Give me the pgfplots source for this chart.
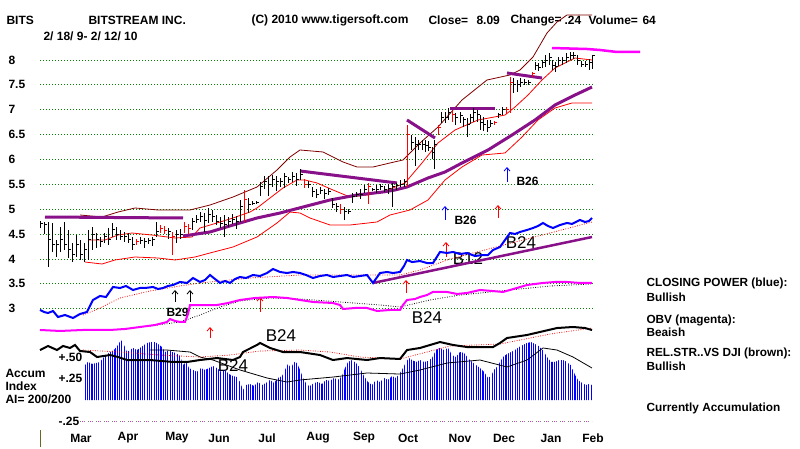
\documentclass[border=0pt]{standalone}
\usepackage{pgfplots}
\pgfplotsset{compat=1.18}
\usepackage{pgfplotstable}
\usepackage{fontspec}
\setmainfont{Liberation Sans}
\usetikzlibrary{patterns.meta,arrows.meta}
\definecolor{darkred}{RGB}{128,0,0}
\definecolor{purp}{RGB}{136,16,136}
\definecolor{mag}{RGB}{255,0,255}
\definecolor{gridg}{RGB}{0,130,0}
\newcommand\lb{\fontsize{12}{14}\selectfont\bfseries}
\newcommand\rb{\fontsize{11.8}{14}\selectfont\bfseries}
\newcommand\biglab{\fontsize{17}{17}\selectfont}

% price bars: x high low close
\pgfplotstableread{
x h l c
40 4.76 4.62 4.72
44 4.74 4.50 4.70
48 4.74 3.84 4.40
52 4.72 4.14 4.30
56 4.38 4.04 4.30
60 4.64 4.14 4.40
64 4.74 4.18 4.30
68 4.58 4.02 4.20
72 4.32 3.94 4.10
76 4.48 4.04 4.30
80 4.38 3.98 4.10
84 4.32 3.94 4.20
88 4.58 3.98 4.40
92 4.64 4.18 4.50
96 4.52 4.22 4.40
100 4.44 4.24 4.35
104 4.52 4.32 4.45
108 4.62 4.28 4.40
112 4.72 4.44 4.60
116 4.64 4.38 4.50
120 4.58 4.38 4.45
124 4.54 4.34 4.45
128 4.52 4.32 4.40
132 4.44 4.18 4.30
140 4.44 4.30 4.38
144 4.42 4.22 4.35
148 4.42 4.30 4.38
152 4.44 4.26 4.40
156 4.74 4.44 4.55
168 4.62 4.40 4.55
176 4.58 4.32 4.50
180 4.60 4.40 4.50
192 4.82 4.58 4.75
196 4.88 4.72 4.80
200 4.94 4.74 4.85
204 4.92 4.54 4.78
208 5.02 4.72 4.90
212 4.98 4.74 4.85
216 4.88 4.68 4.75
220 4.84 4.62 4.72
224 4.88 4.44 4.70
228 4.84 4.64 4.75
232 4.90 4.70 4.80
236 4.86 4.60 4.75
240 5.18 4.74 5.05
248 5.22 4.92 5.10
252 5.16 5.08 5.12
256 5.16 5.10 5.14
260 5.54 5.26 5.45
264 5.66 5.40 5.55
268 5.66 5.26 5.50
272 5.68 5.44 5.60
276 5.66 5.36 5.55
280 5.62 5.44 5.55
284 5.72 5.42 5.65
288 5.64 5.52 5.60
292 5.74 5.54 5.65
296 5.72 5.46 5.60
300 5.80 5.58 5.70
308 5.56 5.42 5.50
312 5.44 5.24 5.35
316 5.40 5.22 5.30
320 5.44 5.30 5.38
324 5.40 5.20 5.32
328 5.42 5.28 5.35
332 5.22 5.02 5.10
336 5.12 4.94 5.05
344 5.04 4.78 4.95
348 5.00 4.90 4.95
352 5.32 5.12 5.25
356 5.34 5.24 5.30
360 5.40 5.20 5.30
364 5.48 5.32 5.40
372 5.42 5.36 5.40
376 5.48 5.32 5.40
380 5.50 5.38 5.45
384 5.46 5.34 5.40
388 5.50 5.30 5.42
392 5.52 5.04 5.45
396 5.52 5.38 5.48
400 5.58 5.44 5.50
404 5.60 5.44 5.55
411 6.50 6.20 6.35
415 6.46 5.86 6.30
418 6.40 6.20 6.30
422 6.40 6.20 6.30
425 6.40 6.16 6.28
428 6.38 6.18 6.25
432 6.25 6.00 6.15
434 6.40 5.80 6.30
441 6.95 6.73 6.85
445 6.95 6.74 6.85
448 7.04 6.80 6.95
455 6.93 6.70 6.85
460 6.96 6.74 6.88
463 6.86 6.66 6.80
467 6.84 6.46 6.70
470 6.92 6.72 6.85
473 7.04 6.76 6.95
477 7.00 6.76 6.90
480 6.90 6.60 6.75
483 6.86 6.58 6.70
487 6.80 6.56 6.65
490 6.80 6.66 6.72
498 6.94 6.84 6.90
502 7.06 6.90 7.00
513 7.64 7.34 7.50
517 7.60 7.36 7.50
520 7.64 7.46 7.55
524 7.62 7.50 7.55
528 7.60 7.50 7.55
535 7.96 7.80 7.90
538 7.94 7.78 7.85
542 8.00 7.84 7.95
545 8.10 7.86 8.00
549 8.14 7.90 8.05
552 8.00 7.80 7.90
555 7.96 7.76 7.88
558 8.06 7.88 8.00
562 8.06 7.90 8.00
566 8.14 7.94 8.05
570 8.16 8.00 8.10
573 8.16 8.02 8.10
577 8.10 7.90 8.00
581 7.98 7.86 7.92
585 7.98 7.86 7.92
589 8.02 7.80 7.95
592 8.10 7.82 8.09
}\blackbars

\pgfplotstableread{
x h l c
136 4.40 4.28 4.35
160 4.68 4.52 4.62
164 4.66 4.50 4.58
172 4.54 4.08 4.45
184 4.74 4.52 4.65
188 4.70 4.50 4.62
244 5.38 4.74 5.20
304 5.60 5.42 5.50
340 5.10 4.90 5.00
368 5.52 5.10 5.45
407 6.70 5.44 6.50
438 6.70 6.50 6.65
452 6.98 6.76 6.90
494 6.78 6.70 6.75
506 7.06 6.92 7.00
510 7.66 6.94 7.55
532 7.76 7.66 7.72
}\redbars

% Accumulation index
\pgfplotstableread{
x a
85 .407
88 .442
92 .419
96 .430
100 .442
103 .488
106 .523
110 .558
114 .581
118 .640
121 .698
124 .640
127 .558
130 .581
133 .605
137 .581
140 .605
144 .640
147 .663
151 .674
155 .674
158 .651
162 .616
165 .558
169 .581
172 .558
176 .547
180 .512
183 .407
186 .442
189 .372
193 .349
197 .326
201 .372
205 .349
209 .372
213 .395
217 .372
221 .326
225 .349
229 .302
233 .279
237 .267
240 .209
243 .116
246 .174
250 .186
254 .163
258 .209
262 .174
266 .198
270 .233
274 .198
278 .256
282 .279
285 .349
288 .419
291 .372
294 .442
297 .430
300 .349
303 .256
307 .174
310 .163
314 .198
318 .209
322 .186
326 .233
330 .221
334 .256
338 .233
342 .279
345 .372
348 .442
352 .465
356 .430
360 .372
364 .279
368 .209
372 .174
376 .233
380 .209
384 .256
388 .233
392 .279
396 .256
400 .314
403 .372
406 .442
409 .488
412 .465
416 .442
420 .465
424 .442
428 .453
432 .488
436 .581
440 .605
444 .581
448 .605
452 .523
456 .500
460 .558
464 .547
468 .488
472 .442
476 .407
480 .372
484 .326
488 .256
491 .279
494 .349
497 .384
500 .442
503 .500
507 .535
511 .558
515 .581
519 .616
523 .640
527 .663
531 .674
535 .651
539 .628
543 .581
547 .500
551 .442
555 .442
559 .465
563 .465
567 .442
571 .407
575 .291
578 .233
582 .198
586 .174
589 .186
592 .174
}\aitab

\pgfplotsset{base/.style={width=800pt,height=448pt,scale only axis,xmin=0,xmax=800,hide axis,clip=false},
 every node/.append style={inner sep=0pt},
 barstyle/.style={only marks, mark=-, mark size=1.5pt, mark options={xshift=1.5pt, line width=0.9pt, #1},
   error bars/.cd, y dir=both, y explicit, error mark=none, error bar style={line width=1pt, #1}},
 arr/.style={#1, line width=0.8pt, -{Straight Barb[length=3.5pt,width=6pt]}}}

\begin{document}
\begin{tikzpicture}
\fill[white] (0,0) rectangle (800pt,448pt);
\begin{axis}[base, ymin=0.2005, ymax=9.206]
% grid lines and price labels
\pgfplotsinvokeforeach{3,3.5,4,4.5,5,5.5,6,6.5,7,7.5,8}{
  \addplot[gridg, line width=0.8pt, dash pattern=on 0.9pt off 2.1pt] coordinates {(40,#1)(593,#1)};
  \node[anchor=west, font=\lb] at (axis cs:5,#1) {#1};
}
% titles
\node[anchor=west, font=\lb] at (axis cs:3,8.804) {BITS};
\node[anchor=west, font=\lb] at (axis cs:85,8.804) {BITSTREAM INC.};
\node[anchor=west, font=\lb] at (axis cs:248,8.804) {(C) 2010 www.tigersoft.com};
\node[anchor=west, font=\lb] at (axis cs:425,8.804) {Close=};
\node[anchor=west, font=\lb] at (axis cs:473,8.804) {8.09};
\node[anchor=west, font=\lb] at (axis cs:507,8.804) {Change=};
\node[anchor=west, font=\lb] at (axis cs:561,8.804) {.24};
\node[anchor=west, font=\lb] at (axis cs:585,8.804) {Volume=};
\node[anchor=west, font=\lb] at (axis cs:639,8.804) {64};
\node[anchor=west, font=\lb] at (axis cs:40,8.482) {2/ 18/ 9- 2/ 12/ 10};
% right side texts
\node[anchor=west, font=\rb] at (axis cs:643,3.518) {CLOSING POWER (blue):};
\node[anchor=west, font=\rb] at (axis cs:643,3.236) {Bullish};
\node[anchor=west, font=\rb] at (axis cs:643,2.774) {OBV (magenta):};
\node[anchor=west, font=\rb] at (axis cs:643,2.533) {Beaish};
\node[anchor=west, font=\rb] at (axis cs:643,2.110) {REL.STR..VS DJI (brown):};
\node[anchor=west, font=\rb] at (axis cs:643,1.849) {Bullish};
\node[anchor=west, font=\rb] at (axis cs:643,1.005) {Currently Accumulation};
% month labels
\node[font=\lb] at (axis cs:81,0.402) {Mar};
\node[font=\lb] at (axis cs:128,0.402) {Apr};
\node[font=\lb] at (axis cs:177,0.402) {May};
\node[font=\lb] at (axis cs:219,0.402) {Jun};
\node[font=\lb] at (axis cs:267,0.402) {Jul};
\node[font=\lb] at (axis cs:318,0.402) {Aug};
\node[font=\lb] at (axis cs:364,0.402) {Sep};
\node[font=\lb] at (axis cs:408,0.402) {Oct};
\node[font=\lb] at (axis cs:460,0.402) {Nov};
\node[font=\lb] at (axis cs:504,0.402) {Dec};
\node[font=\lb] at (axis cs:551,0.402) {Jan};
\node[font=\lb] at (axis cs:593,0.402) {Feb};
\addplot[olive!70!black, line width=1pt] coordinates {(40,0.23)(40,0.56)};
% signal labels
\node[font=\biglab] at (axis cs:468,4.00) {B12};
\node[font=\biglab] at (axis cs:521,4.34) {B24};
\node[font=\biglab] at (axis cs:427,2.814) {B24};
\node[font=\biglab] at (axis cs:281,2.452) {B24};
\node[font=\biglab] at (axis cs:233,1.849) {B24};
\node[anchor=west, font=\lb] at (axis cs:163,2.935) {B29};
\node[anchor=west, font=\lb] at (axis cs:451,4.784) {B26};
\node[anchor=west, font=\lb] at (axis cs:513,5.568) {B26};
% arrows
\addplot[arr=black] coordinates {(175,3.136)(175,3.377)};
\addplot[arr=black] coordinates {(190,3.136)(190,3.377)};
\addplot[arr=red] coordinates {(210,2.412)(210,2.633)};
\addplot[arr=red] coordinates {(260,2.935)(260,3.236)};
\addplot[arr=red] coordinates {(406,3.317)(406,3.578)};
\addplot[arr=red] coordinates {(446,4.040)(446,4.342)};
\addplot[arr=red] coordinates {(498,4.824)(498,5.085)};
\addplot[arr=blue] coordinates {(445,4.784)(445,5.065)};
\addplot[arr=blue] coordinates {(507,5.548)(507,5.849)};
% Bollinger bands and moving average
\addplot[darkred, line width=0.8pt] coordinates {(80,4.884)(102,4.844)(118,4.944)(135,5.025)(158,4.985)(178,4.985)(190,4.985)(210,5.085)(233,5.246)(257,5.447)(277,5.789)(290,6.050)(300,6.191)(323,6.151)(343,5.950)(357,5.849)(373,5.849)(390,5.930)(403,5.990)(408,6.090)(420,6.332)(438,6.653)(462,7.196)(487,7.598)(510,7.699)(520,7.799)(533,8.060)(547,8.543)(557,8.764)(567,8.905)(592,8.905)};
\addplot[red, line width=0.8pt] coordinates {(85,3.939)(102,3.899)(115,3.980)(135,4.040)(158,4.020)(175,3.980)(195,4.040)(210,4.121)(233,4.241)(257,4.442)(277,4.724)(290,4.944)(300,4.924)(310,4.824)(330,4.683)(350,4.683)(377,4.744)(390,4.884)(410,4.985)(428,5.186)(445,5.588)(462,5.849)(482,6.090)(505,6.131)(522,6.452)(538,6.794)(555,7.035)(572,7.136)(592,7.136)};
\addplot[red, line width=0.8pt] coordinates {(88,4.382)(105,4.382)(118,4.482)(132,4.522)(152,4.482)(175,4.422)(192,4.442)(200,4.623)(217,4.724)(233,4.824)(250,4.944)(257,5.025)(270,5.226)(283,5.427)(297,5.588)(305,5.588)(317,5.528)(333,5.387)(350,5.246)(367,5.286)(383,5.347)(405,5.528)(422,5.930)(438,6.332)(455,6.593)(478,6.794)(505,6.894)(515,7.055)(528,7.296)(542,7.598)(555,7.839)(575,8.040)(592,8.000)};
\addplot[purp, line width=3pt] coordinates {(183,4.462)(190,4.482)(210,4.543)(233,4.683)(257,4.824)(280,4.924)(303,5.045)(330,5.186)(357,5.286)(383,5.347)(395,5.387)(407,5.447)(428,5.628)(445,5.749)(462,5.930)(488,6.191)(512,6.492)(535,6.794)(555,7.095)(575,7.296)(592,7.457)};
% trend lines
\addplot[purp, line width=3pt] coordinates {(45,4.844)(183,4.824)};
\addplot[purp, line width=3pt] coordinates {(300,5.769)(397,5.528)};
\addplot[purp, line width=3pt] coordinates {(407,6.794)(435,6.432)};
\addplot[purp, line width=3pt] coordinates {(450,7.035)(495,7.035)};
\addplot[purp, line width=3pt] coordinates {(507,7.739)(542,7.638)};
\addplot[mag, line width=2.5pt] coordinates {(552,8.241)(587,8.221)(600,8.201)(617,8.161)(640,8.161)};
% price bars
\addplot[barstyle=black] table[x=x, y=c, y error plus expr=\thisrow{h}-\thisrow{c}, y error minus expr=\thisrow{c}-\thisrow{l}] {\blackbars};
\addplot[barstyle=red] table[x=x, y=c, y error plus expr=\thisrow{h}-\thisrow{c}, y error minus expr=\thisrow{c}-\thisrow{l}] {\redbars};
% closing power
\addplot[red, line width=0.8pt, dash pattern=on 0.8pt off 1.6pt] coordinates {(83,2.874)(100,3.015)(120,3.216)(150,3.357)(180,3.457)(200,3.518)(250,3.618)(300,3.678)(350,3.678)(400,3.678)(420,3.779)(450,4.000)(500,4.261)(550,4.522)(592,4.744)};
\addplot[purp, line width=2.5pt] coordinates {(373,3.518)(592,4.442)};
\addplot[blue, line width=2pt] coordinates {(40,2.975)(44,2.935)(48,2.914)(53,2.955)(58,2.834)(65,2.874)(73,2.814)(80,2.894)(87,2.935)(93,3.176)(100,3.256)(106,3.236)(113,3.437)(120,3.417)(126,3.457)(133,3.377)(140,3.417)(145,3.417)(153,3.437)(158,3.397)(163,3.417)(168,3.457)(173,3.477)(180,3.538)(187,3.518)(193,3.618)(200,3.538)(205,3.578)(210,3.678)(215,3.598)(220,3.518)(225,3.558)(230,3.518)(235,3.598)(240,3.638)(246,3.618)(253,3.678)(260,3.658)(267,3.718)(273,3.799)(280,3.739)(287,3.718)(293,3.739)(300,3.718)(306,3.678)(313,3.618)(320,3.658)(327,3.678)(333,3.638)(340,3.658)(347,3.678)(353,3.638)(360,3.658)(367,3.678)(373,3.518)(380,3.718)(387,3.739)(393,3.718)(400,3.739)(404,3.859)(407,3.980)(412,3.939)(420,3.959)(427,3.919)(433,3.919)(440,4.141)(447,4.121)(453,4.141)(460,4.100)(467,4.120)(475,4.060)(483,4.080)(488,4.080)(493,4.181)(500,4.241)(505,4.382)(510,4.522)(515,4.502)(520,4.543)(527,4.583)(533,4.623)(538,4.663)(543,4.724)(548,4.663)(553,4.623)(560,4.683)(567,4.724)(572,4.704)(580,4.784)(585,4.744)(589,4.764)(592,4.824)};
% OBV
\addplot[black, line width=0.8pt, dash pattern=on 0.8pt off 1.6pt] coordinates {(150,2.653)(180,2.734)(200,2.874)(220,3.035)(240,3.156)(270,3.216)(300,3.196)(340,3.136)(380,3.075)(400,3.035)(430,3.176)(460,3.276)(500,3.357)(550,3.457)(592,3.498)};
\addplot[mag, line width=2pt] coordinates {(40,2.573)(60,2.553)(83,2.573)(110,2.573)(125,2.593)(140,2.633)(155,2.673)(167,2.734)(170,2.794)(175,2.754)(180,2.734)(185,2.734)(188,2.894)(190,3.075)(205,3.075)(217,3.075)(228,3.115)(240,3.176)(255,3.216)(273,3.236)(287,3.216)(300,3.176)(313,3.136)(333,3.115)(340,3.075)(343,2.995)(355,3.015)(367,3.015)(377,2.955)(390,2.975)(400,2.975)(403,3.075)(407,3.176)(415,3.196)(420,3.236)(427,3.276)(433,3.337)(447,3.337)(457,3.297)(467,3.317)(480,3.377)(492,3.357)(503,3.337)(510,3.377)(527,3.477)(535,3.498)(543,3.518)(555,3.538)(567,3.538)(580,3.518)(592,3.518)};
\end{axis}

\begin{axis}[base, ymin=-0.5581, ymax=4.6512]
\addplot[gray, line width=0.8pt, dash pattern=on 0.9pt off 3.1pt] coordinates {(80,-0.25)(592,-0.25)};
\addplot[mag!70!gray, line width=0.8pt, dash pattern=on 0.9pt off 7.1pt] coordinates {(82,-0.25)(592,-0.25)};
\node[anchor=west, font=\lb] at (axis cs:55,0.5) {+.50};
\node[anchor=west, font=\lb] at (axis cs:55,0.25) {+.25};
\node[anchor=west, font=\lb] at (axis cs:55,-0.25) {-.25};
\node[anchor=west, font=\lb] at (axis cs:2,0.314) {Accum};
\node[anchor=west, font=\lb] at (axis cs:2,0.163) {Index};
\node[anchor=west, font=\lb] at (axis cs:2,0.012) {AI= 200/200};
\addplot[draw=none, pattern={Lines[angle=90,distance=2.3pt,line width=1.1pt]}, pattern color=blue] table[x=x,y=a] {\aitab} \closedcycle;
\addplot[black, line width=0.8pt] coordinates {(150,.581)(167,.581)(190,.558)(200,.500)(213,.465)(240,.349)(267,.256)(287,.209)(300,.233)(333,.267)(367,.314)(400,.302)(420,.349)(447,.430)(480,.465)(507,.384)(527,.465)(543,.605)(557,.581)(573,.500)(592,.372)};
\addplot[red, line width=0.8pt, dash pattern=on 0.8pt off 1.6pt] coordinates {(83,.581)(120,.558)(160,.523)(200,.500)(230,.523)(260,.570)(300,.581)(330,.558)(360,.500)(400,.477)(450,.628)(500,.651)(550,.767)(592,.837)};
\addplot[black, line width=2pt] coordinates {(40,.581)(48,.628)(57,.581)(63,.628)(70,.605)(75,.640)(80,.570)(90,.558)(97,.500)(110,.523)(118,.500)(127,.465)(150,.465)(173,.442)(187,.442)(200,.465)(217,.488)(233,.465)(240,.500)(243,.558)(257,.640)(260,.663)(270,.605)(283,.558)(300,.558)(320,.523)(333,.465)(347,.488)(367,.465)(380,.488)(400,.477)(407,.581)(420,.605)(440,.674)(453,.640)(467,.616)(493,.616)(500,.663)(507,.721)(527,.756)(540,.791)(557,.837)(573,.849)(585,.837)(592,.814)};
\end{axis}
\end{tikzpicture}
\end{document}
